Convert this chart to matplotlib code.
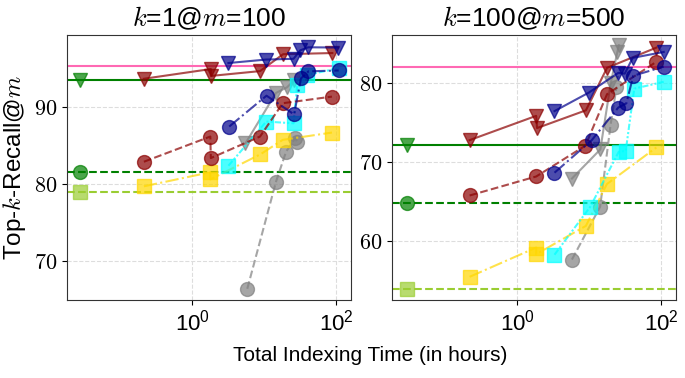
import numpy as np
import matplotlib
matplotlib.use('Agg')
import matplotlib.pyplot as plt
from matplotlib.ticker import FuncFormatter, NullLocator

plt.rcParams['font.family'] = ['Liberation Sans', 'DejaVu Sans']
plt.rcParams['mathtext.fontset'] = 'cm'

# ---- left panel: k=1@m=100 ----
L_base_x = 0.027
L_base_tri = 93.5
L_base_circ = 81.5
L_base_sq = 78.9
L_pink = 95.4

L_brown_tri_x = [0.21, 1.8, 1.8, 8.7, 18.2, 88]
L_brown_tri_y = [93.7, 94.97, 94.07, 94.7, 96.9, 97.05]
L_blue_tri_x = [3.16, 10.5, 25.4, 31.5, 40.6, 105]
L_blue_tri_y = [95.75, 96.2, 96.3, 97.4, 97.8, 97.77]
L_blue_circ_x = [3.24, 10.7, 25.9, 32.2, 41, 108]
L_blue_circ_y = [87.48, 91.5, 89.06, 93.74, 94.67, 94.78]
L_brown_circ_x = [0.211, 1.77, 1.8, 8.7, 18, 87]
L_brown_circ_y = [82.9, 86.18, 83.38, 86.18, 90.52, 91.38]
L_cyan_x = [3.16, 10.6, 25.4, 28.6, 39.4, 110]
L_cyan_y = [82.38, 88.13, 87.9, 92.9, 94.2, 95.1]
L_gray_tri_x = [5.46, 14.5, 20.7, 25.9]
L_gray_tri_y = [85.3, 91.86, 92.6, 93.5]
L_gray_circ_x = [5.78, 14.5, 20, 26.8, 28.6]
L_gray_circ_y = [66.36, 80.3, 84.2, 85.97, 85.5]
L_yellow_x = [0.211, 1.77, 1.77, 8.8, 18, 87]
L_yellow_y = [79.7, 81.53, 80.6, 83.87, 85.75, 86.7]

# ---- right panel: k=100@m=500 ----
R_base_x = 0.029
R_base_tri = 72.1
R_base_circ = 64.86
R_base_sq = 53.95
R_pink = 82.0

R_brown_tri_x = [0.216, 1.82, 1.87, 8.94, 17.6, 85.3]
R_brown_tri_y = [72.77, 75.85, 74.3, 76.55, 81.94, 84.5]
R_blue_tri_x = [3.27, 9.84, 25.2, 31, 40, 108]
R_blue_tri_y = [76.45, 78.8, 81.3, 81.2, 83.2, 83.95]
R_blue_circ_x = [3.27, 10.7, 25.2, 32.7, 40.7, 108]
R_blue_circ_y = [68.64, 72.73, 76.9, 77.44, 80.93, 82.09]
R_brown_circ_x = [0.216, 1.82, 8.8, 17.6, 85.3]
R_brown_circ_y = [65.75, 68.16, 72.07, 78.6, 82.7]
R_cyan_x = [3.27, 10.3, 25.6, 32, 42, 108]
R_cyan_y = [58.24, 64.33, 71.3, 71.4, 79.3, 80.16]
R_gray_tri_x = [5.72, 14.2, 19.8, 24.4, 25.7]
R_gray_tri_y = [67.9, 71.6, 80.0, 83.9, 84.8]
R_gray_circ_x = [5.72, 14.1, 19.7, 23.8]
R_gray_circ_y = [57.63, 64.33, 74.7, 79.45]
R_yellow_x = [0.216, 1.82, 1.82, 8.94, 17.5, 85.3]
R_yellow_y = [55.44, 59.15, 58.3, 61.9, 67.2, 71.84]

BROWN = '#8B0000'
NAVY = '#00008B'
CYAN = '#00FFFF'
GOLD = '#FFD700'
GRAY = 'gray'
A = 0.7
ms = 10


def panel(ax, d, title, ylim, yticks):
    ax.axhline(d['pink'], color='#FF69B4', lw=1.5, zorder=1)
    ax.axhline(d['btri'], color='green', lw=1.5, zorder=1)
    ax.axhline(d['bcirc'], color='green', lw=1.5, ls='--', zorder=1)
    ax.axhline(d['bsq'], color='yellowgreen', lw=1.5, ls='--', zorder=1)
    ax.plot([d['bx']], [d['btri']], 'v', color='green', alpha=A, ms=ms)
    ax.plot([d['bx']], [d['bcirc']], 'o', color='green', alpha=A, ms=ms)
    ax.plot([d['bx']], [d['bsq']], 's', color='yellowgreen', alpha=A, ms=ms)

    ax.plot(*d['gray_circ'], 'o--', color=GRAY, alpha=A, ms=ms, lw=1.5)
    ax.plot(*d['gray_tri'], 'v-', color=GRAY, alpha=A, ms=ms, lw=1.5)
    ax.plot(*d['yellow'], 's-.', color=GOLD, alpha=A, ms=ms, lw=1.5)
    ax.plot(*d['cyan'], 's', color=CYAN, alpha=A, ms=ms, lw=1.5,
            ls=(0, (3, 1, 1, 1, 1, 1)))
    ax.plot(*d['brown_circ'], 'o--', color=BROWN, alpha=A, ms=ms, lw=1.5)
    ax.plot(*d['blue_circ'], 'o-.', color=NAVY, alpha=A, ms=ms, lw=1.5)
    ax.plot(*d['brown_tri'], 'v-', color=BROWN, alpha=A, ms=ms, lw=1.5)
    ax.plot(*d['blue_tri'], 'v-', color=NAVY, alpha=A, ms=ms, lw=1.5)

    ax.set_xscale('log')
    ax.set_xlim(0.018, 160)
    ax.set_xticks([1, 100])
    ax.xaxis.set_minor_locator(NullLocator())
    ax.set_ylim(*ylim)
    ax.set_yticks(yticks)
    ax.yaxis.set_major_formatter(FuncFormatter(lambda v, p: '$%d$' % v))
    ax.tick_params(labelsize=16)
    ax.grid(True, ls='--', color='#dddddd', lw=0.8)
    ax.set_axisbelow(True)
    for s in ax.spines.values():
        s.set_color('#333333')
    ax.set_title(title, fontsize=19)


fig = plt.figure(figsize=(6.85, 3.78), dpi=100)
ax1 = fig.add_axes([67 / 685, 1 - 300 / 378, 284 / 685, 265 / 378])
ax2 = fig.add_axes([392 / 685, 1 - 300 / 378, 284 / 685, 265 / 378])

left = dict(bx=L_base_x, btri=L_base_tri, bcirc=L_base_circ, bsq=L_base_sq, pink=L_pink,
            brown_tri=(L_brown_tri_x, L_brown_tri_y), blue_tri=(L_blue_tri_x, L_blue_tri_y),
            blue_circ=(L_blue_circ_x, L_blue_circ_y), brown_circ=(L_brown_circ_x, L_brown_circ_y),
            cyan=(L_cyan_x, L_cyan_y), gray_tri=(L_gray_tri_x, L_gray_tri_y),
            gray_circ=(L_gray_circ_x, L_gray_circ_y), yellow=(L_yellow_x, L_yellow_y))
right = dict(bx=R_base_x, btri=R_base_tri, bcirc=R_base_circ, bsq=R_base_sq, pink=R_pink,
             brown_tri=(R_brown_tri_x, R_brown_tri_y), blue_tri=(R_blue_tri_x, R_blue_tri_y),
             blue_circ=(R_blue_circ_x, R_blue_circ_y), brown_circ=(R_brown_circ_x, R_brown_circ_y),
             cyan=(R_cyan_x, R_cyan_y), gray_tri=(R_gray_tri_x, R_gray_tri_y),
             gray_circ=(R_gray_circ_x, R_gray_circ_y), yellow=(R_yellow_x, R_yellow_y))

panel(ax1, left, r'$k$=1@$m$=100', (64.9, 99.4), [70, 80, 90])
panel(ax2, right, r'$k$=100@$m$=500', (52.5, 86.1), [60, 70, 80])

ax1.set_ylabel(r'Top-$k$-Recall@$m$', fontsize=17.5, labelpad=4)
fig.text(0.54, 0.06, 'Total Indexing Time (in hours)', ha='center', va='center', fontsize=15)

fig.savefig('out.png', dpi=100)
